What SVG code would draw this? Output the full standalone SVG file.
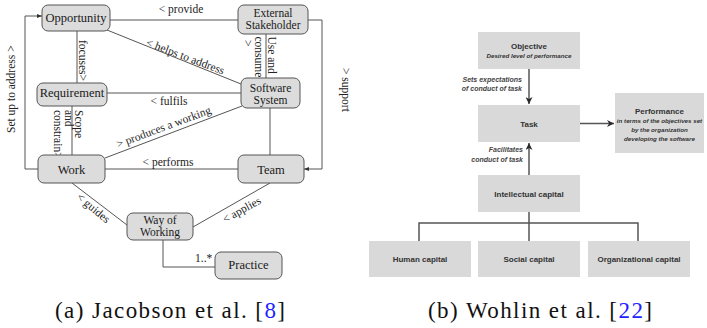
<svg xmlns="http://www.w3.org/2000/svg" width="707" height="328" viewBox="0 0 707 328">
<defs>
<marker id="a1" viewBox="0 0 10 10" refX="10" refY="5" markerWidth="5" markerHeight="5" markerUnits="userSpaceOnUse" orient="auto"><path d="M0,1 L10,5 L0,9 z" fill="#333"/></marker>
<marker id="a2" viewBox="0 0 10 10" refX="10" refY="5" markerWidth="7" markerHeight="7" markerUnits="userSpaceOnUse" orient="auto"><path d="M0,0 L10,5 L0,10 L3,5 z" fill="#2a2a2a"/></marker>
</defs>
<style>
.n rect{fill:#dcdcdc;stroke:#555;stroke-width:1}
.n text{font-family:"Liberation Serif","Times New Roman",serif;font-size:12.5px;fill:#1a1a1a;text-anchor:middle}
.n text.two{font-size:11.5px}
.c path{fill:none;stroke:#555;stroke-width:1}
.l{font-family:"Liberation Serif","Times New Roman",serif;font-size:11.5px;fill:#222}
.m{text-anchor:middle}
.r rect{fill:#d9d9d9;stroke:none}
.r text{font-family:"Liberation Sans",Arial,sans-serif;fill:#333;text-anchor:middle}
.t{font-size:8px;font-weight:bold}
.s{font-size:6.2px;font-weight:bold;font-style:italic}
.rc path{fill:none;stroke:#555;stroke-width:1.5}
.rl{font-family:"Liberation Sans",Arial,sans-serif;font-size:7px;font-weight:bold;font-style:italic;fill:#444;text-anchor:end}
.cap{font-family:"Liberation Serif","Times New Roman",serif;font-size:23px;fill:#111}
</style>
<rect width="707" height="328" fill="#fff"/>

<g id="connectors-a" class="c">
<path d="M110,20 H238"/>
<path d="M77,31 V83"/>
<path d="M107,30 L241,84"/>
<path d="M266,34 V78"/>
<path d="M308,20 H322 V169 H304" marker-end="url(#a1)"/>
<path d="M107,93 H241"/>
<path d="M72,106 V155"/>
<path d="M242,106 L105,158"/>
<path d="M270,108 V155"/>
<path d="M105,169 H238"/>
<path d="M38,169 H25 V16 H42" marker-end="url(#a1)"/>
<path d="M72,183 L127,225"/>
<path d="M270,183 L193,227"/>
<path d="M163,240 V267 H215"/>
</g>

<g id="labels-a">
<text class="l m" x="181" y="12.5">&lt; provide</text>
<text class="l" transform="translate(79,40) rotate(90)">focuses&gt;</text>
<text class="l" transform="translate(267.5,36.5) rotate(90)">Use and</text>
<text class="l" transform="translate(255,36.5) rotate(90)">consume</text>
<text class="l" transform="translate(244,40) rotate(90)">&gt;</text>
<text class="l" font-size="12" transform="translate(341.5,68) rotate(90)">&gt; support</text>
<text class="l" font-size="12" transform="translate(15,133) rotate(-90)">Set up to address &gt;</text>
<text class="l" transform="translate(75,110) rotate(90)">Scope</text>
<text class="l" transform="translate(64.5,110) rotate(90)">and</text>
<text class="l" transform="translate(54,110) rotate(90)">constrain&gt;</text>
<text class="l m" transform="translate(184,60) rotate(20.6)">&lt; helps to address</text>
<text class="l m" x="169" y="104.5">&lt; fulfils</text>
<text class="l m" transform="translate(165,130.5) rotate(-20.5)">&gt; produces a working</text>
<text class="l m" x="168" y="166">&lt; performs</text>
<text class="l m" transform="translate(91,211) rotate(40)">&lt; guides</text>
<text class="l m" transform="translate(243.5,213) rotate(-29)">&lt; applies</text>
<text class="l" x="195" y="262">1..*</text>
</g>

<g id="opportunity" class="n"><rect x="42" y="5" width="68" height="26" rx="6"/><text x="76" y="22">Opportunity</text></g>
<g id="external-stakeholder" class="n"><rect x="238" y="5" width="70" height="29" rx="6"/><text class="two" x="273" y="16.5">External</text><text class="two" x="273" y="29">Stakeholder</text></g>
<g id="requirement" class="n"><rect x="37" y="83" width="70" height="23" rx="6"/><text x="72" y="97">Requirement</text></g>
<g id="software-system" class="n"><rect x="241" y="78" width="59" height="30" rx="6"/><text class="two" x="270.5" y="91.5">Software</text><text class="two" x="270.5" y="104">System</text></g>
<g id="work" class="n"><rect x="38" y="155" width="67" height="28" rx="6"/><text x="71.5" y="174">Work</text></g>
<g id="team" class="n"><rect x="238" y="155" width="66" height="28" rx="6"/><text x="271" y="174">Team</text></g>
<g id="way-of-working" class="n"><rect x="127" y="213" width="66" height="27" rx="6"/><text class="two" x="160" y="224">Way of</text><text class="two" x="160" y="236">Working</text></g>
<g id="practice" class="n"><rect x="215" y="252" width="67" height="27" rx="6"/><text x="248.5" y="269">Practice</text></g>

<text class="cap" x="55" y="318" textLength="230" lengthAdjust="spacing">(a) Jacobson et al. [<tspan fill="#1f1fff">8</tspan>]</text>

<g id="connectors-b" class="rc">
<path d="M529,69 V104" marker-end="url(#a2)"/>
<path d="M580,123.5 H614" marker-end="url(#a2)"/>
<path d="M529,175 V143" marker-end="url(#a2)"/>
<path d="M529,212 V223 M419,241 V223 H638 V241 M529,223 V241"/>
</g>
<text class="rl" x="522" y="81.5">Sets expectations</text>
<text class="rl" x="522" y="91">of conduct of task</text>
<text class="rl" x="523" y="152">Facilitates</text>
<text class="rl" x="523" y="162">conduct of task</text>

<g id="objective" class="r"><rect x="478" y="32" width="102" height="37"/><text class="t" x="529" y="49">Objective</text><text class="s" x="529" y="57.5">Desired level of performance</text></g>
<g id="task" class="r"><rect x="478" y="105" width="102" height="37"/><text class="t" x="529" y="126.5">Task</text></g>
<g id="performance" class="r"><rect x="615" y="93" width="89" height="60"/><text class="t" font-size="9" x="659.5" y="114">Performance</text><text class="s" font-size="5.9" x="659.5" y="122.5">in terms of the objectives set</text><text class="s" font-size="5.9" x="659.5" y="131.5">by the organization</text><text class="s" font-size="5.9" x="659.5" y="140.5">developing the software</text></g>
<g id="intellectual-capital" class="r"><rect x="478" y="175" width="102" height="37"/><text class="t" x="529" y="196.5">Intellectual capital</text></g>
<g id="human-capital" class="r"><rect x="369" y="241" width="102" height="36"/><text class="t" x="420" y="262">Human capital</text></g>
<g id="social-capital" class="r"><rect x="478" y="241" width="102" height="36"/><text class="t" x="529" y="262">Social capital</text></g>
<g id="organizational-capital" class="r"><rect x="588" y="241" width="102" height="36"/><text class="t" x="639" y="262">Organizational capital</text></g>

<text class="cap" x="428" y="318" textLength="224" lengthAdjust="spacing">(b) Wohlin et al. [<tspan fill="#1f1fff">22</tspan>]</text>
</svg>
